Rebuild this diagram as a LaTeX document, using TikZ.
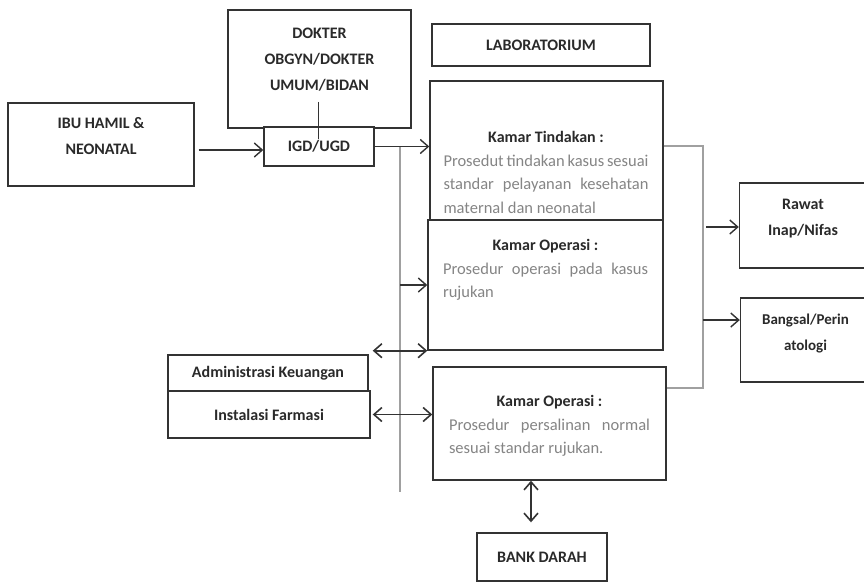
\documentclass[tikz,border=0pt]{standalone}
\usepackage{fontspec}
\setmainfont{Carlito}
\usepackage{xcolor}
\usetikzlibrary{positioning,calc,arrows.meta}

\definecolor{boxline}{HTML}{333333}
\definecolor{busline}{HTML}{A0A0A0}
\definecolor{bodytext}{HTML}{858585}
\definecolor{labeltext}{HTML}{2A2A2A}

\tikzset{
  box/.style={draw=boxline, line width=1.4pt, fill=white, rectangle, inner sep=0pt,
    text=labeltext, align=center, font=\fontsize{16}{26}\selectfont\bfseries},
  lbl/.style={align=center, inner sep=0pt, text=labeltext, font=\fontsize{16}{26}\selectfont\bfseries},
  body/.style={text width=#1, align=justify, inner sep=0pt, text=bodytext,
    font=\fontsize{16.5}{23.5}\selectfont},
  arr/.style={->, >={Straight Barb[length=8pt,width=14pt]}, draw=boxline, line width=1.4pt},
  dbl/.style={<->, >={Straight Barb[length=8pt,width=14pt]}, draw=boxline, line width=1.6pt},
  gline/.style={draw=busline, line width=1.3pt},
  hline/.style={draw=boxline, line width=1pt}
}

\begin{document}
\begin{tikzpicture}[x=1pt,y=-1pt]
        \useasboundingbox (0,0) rectangle (864,582);

        % boxes
        \node[box, minimum width=186pt, minimum height=83pt] (ibu) at (101,144.5) {};
        \node[lbl] (ibulbl) at (101,136.5) {IBU HAMIL \&\\NEONATAL};
        \node[box, minimum width=183pt, minimum height=118pt] (dokter) at (319.5,69) {};
        \node[lbl] (dokterlbl) at (319.5,60) {DOKTER\\OBGYN/DOKTER\\UMUM/BIDAN};
        \node[box, minimum width=110pt, minimum height=39pt] (igd) at (319,146.5) {IGD/UGD};
        \node[box, minimum width=218pt, minimum height=42pt] (lab) at (541,45) {LABORATORIUM};
        \node[box, minimum width=233pt, minimum height=139pt] (tindakan) at (546.5,150.5) {};
        \node[box, minimum width=235pt, minimum height=130pt] (op1) at (545.5,285) {};
        \node[box, minimum width=200pt, minimum height=37pt] (admin) at (268,373.5) {Administrasi Keuangan};
        \node[box, minimum width=202pt, minimum height=47pt] (farmasi) at (269,414.5) {Instalasi Farmasi};
        \node[box, minimum width=233pt, minimum height=113pt] (op2) at (549.5,423.5) {};
        \node[box, minimum width=130pt, minimum height=48pt] (bank) at (542,557) {BANK DARAH};
        \node[box, minimum width=130pt, minimum height=85pt] (rawat) at (804.5,225.5) {};
        \node[lbl] (rawatlbl) at (803,218.5) {Rawat\\Inap/Nifas};
        \node[box, minimum width=130pt, minimum height=84pt] (bangsal) at (805.5,340) {};
        \node[lbl, font=\fontsize{15}{26}\selectfont\bfseries] (bangsallbl) at (805.5,333.5) {Bangsal/Perin\\atologi};

        % texts inside the kamar boxes
        \node[body=205pt] (tindakantxt) at (546,172.5) {{\centering\bfseries\color{labeltext}\fontsize{16}{23.5}\selectfont Kamar Tindakan :\par}Prosedut tindakan kasus sesuai\linebreak standar pelayanan kesehatan\linebreak maternal dan neonatal};
        \node[body=205pt] (op1txt) at (545.5,270) {{\centering\bfseries\color{labeltext}\fontsize{16}{23.5}\selectfont Kamar Operasi :\par}Prosedur operasi pada kasus\linebreak rujukan};
        \node[body=201pt] (op2txt) at (549.5,426) {{\centering\bfseries\color{labeltext}\fontsize{16}{23.5}\selectfont Kamar Operasi :\par}Prosedur persalinan normal\linebreak sesuai standar rujukan.};

        % bus lines
        \coordinate (bus) at (400,147);
        \coordinate (busend) at (400,492);
        \coordinate (rt) at (703,146);
        \coordinate (rb) at (703,388);
        \coordinate (b1) at (706,227);
        \coordinate (b2) at (703,320);
        \draw[gline] (bus) -- (busend);
        \draw[gline] (rt -| tindakan.east) -- (rt) -- (rb) -- (rb -| op2.east);
        \draw[hline] ([xshift=-1.5pt,yshift=-10pt]dokterlbl.south) -- ([xshift=-1pt,yshift=8pt]igd.center);

        % arrows
        \draw[arr] ([xshift=4pt,yshift=-3.5pt]ibu.east |- igd.west) -- ([yshift=-3.5pt]igd.west);
        \draw[arr] (igd.east) -- (igd.east -| tindakan.west);
        \draw[arr] (bus |- op1.west) -- (op1.west);
        \draw[dbl] ([xshift=4pt]admin.north east |- op1.south west) -- (op1.south west);
        \draw[dbl] ([xshift=2pt]farmasi.east) -- (farmasi.east -| op2.west);
        \draw[dbl] ([xshift=-18.5pt]op2.south) -- ([xshift=-18.5pt,yshift=10pt]op2.south |- bank.north);
        \draw[arr] (b1) -- (b1 -| rawat.west);
        \draw[arr] (b2) -- (b2 -| bangsal.west);
    \end{tikzpicture}
\end{document}
